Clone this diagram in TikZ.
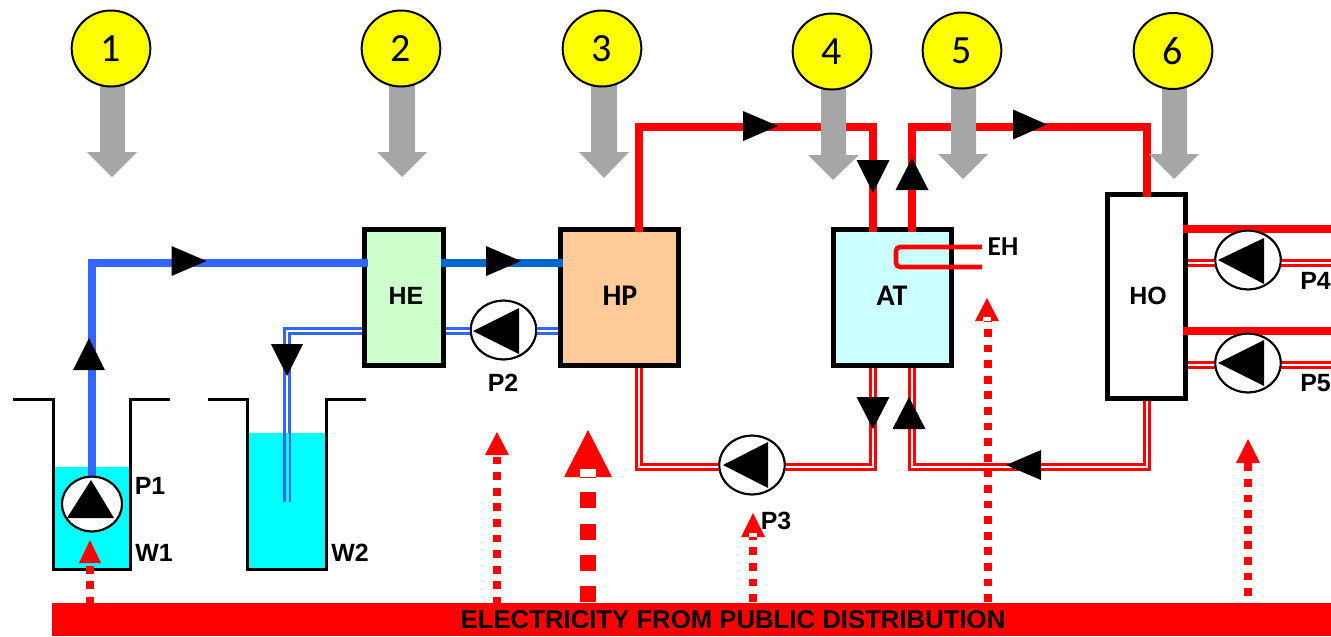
\documentclass[tikz,border=0pt]{standalone}
\usepackage{fontspec}
\usetikzlibrary{shapes.geometric}
\setmainfont{Liberation Sans}
\newfontfamily\carl{Carlito}
\definecolor{coldblue}{HTML}{3366FF}
\definecolor{midblue}{HTML}{0066CC}
\definecolor{hegreen}{HTML}{CCFFCC}
\definecolor{hporange}{HTML}{FFCC99}
\definecolor{atblue}{HTML}{CCFFFF}
\definecolor{water}{HTML}{00FFFF}
\definecolor{arrgray}{HTML}{A6A6A6}
\definecolor{numyellow}{HTML}{FFFF00}
\begin{document}
\begin{tikzpicture}[x=0.75pt,y=-0.75pt,
  lbl/.style={inner sep=0pt,font=\fontsize{18.7pt}{20pt}\selectfont\bfseries},
  lblc/.style={inner sep=0pt,font=\fontsize{22.5pt}{24pt}\carl\bfseries},
  num/.style={ellipse,draw=black,fill=numyellow,line width=1.5pt,minimum width=59pt,minimum height=57pt,inner sep=0pt,font=\fontsize{30pt}{32pt}\carl},
  boxn/.style={draw=black,line width=3.5pt,inner sep=0pt},
  pipe/.style={line width=6pt,line cap=butt,line join=miter},
  dblc/.style={draw=coldblue,line width=2.4pt,double=white,double distance=1.2pt,line join=miter},
  dblh/.style={draw=red,line width=2.1pt,double=white,double distance=1.8pt,line join=miter},
  pumpn/.style={ellipse,draw=black,fill=white,line width=1.5pt,inner sep=0pt,minimum width=49pt,minimum height=44pt},
  wall/.style={draw=black,line width=2.25pt,line join=miter},
  dots/.style={draw=red,line width=6pt,dash pattern=on 5.85pt off 5.85pt},
  graya/.style={fill=arrgray},
  tipb/.style={fill=black},
  tipr/.style={fill=red}]
\clip (0,0) rectangle (1331,636);
% water
\fill[water] (53,467) rectangle (130,569);
\fill[water] (247,433) rectangle (326,569);
% bar
\node[fill=red,inner sep=0pt,minimum width=959.25pt,minimum height=24.75pt,anchor=south west] (bar) at (52,636) {};
% boxes
\node[boxn,fill=hegreen,minimum width=59pt,minimum height=102pt] (he) at (404,297.5) {};
\node[boxn,fill=hporange,minimum width=88.5pt,minimum height=102pt] (hp) at (619.5,297.5) {};
\node[boxn,fill=atblue,minimum width=88.5pt,minimum height=102pt] (at) at (892.5,297.5) {};
\node[boxn,fill=white,minimum width=58.5pt,minimum height=153pt] (ho) at (1146.5,296.5) {};
% pumps
\node[pumpn,minimum width=45pt,minimum height=41pt] (p1) at (92,504) {};
\node[pumpn] (p2) at (503.5,330) {};
\node[pumpn] (p3) at (752,465) {};
\node[pumpn] (p4) at (1248,260) {};
\node[pumpn] (p5) at (1248,363) {};
% anchors on the boxes
\coordinate (heIn) at (368,263);
\coordinate (heOut) at (441,263);
\coordinate (hpIn) at (563,263);
\coordinate (heRetL) at (362,331);
\coordinate (heRetR) at (446,331);
\coordinate (hpRetL) at (558,331);
\coordinate (w2End) at (287,502);
\coordinate (hpTop) at (639,232);
\coordinate (atTopA) at (873,232);
\coordinate (atTopB) at (912,232);
\coordinate (hoTop) at (1147,197);
\coordinate (hpBot) at (639,368);
\coordinate (atBotA) at (873,368);
\coordinate (atBotB) at (912,368);
\coordinate (hoBot) at (1147,401);
\coordinate (hoA) at (1183,229);
\coordinate (hoB) at (1183,331);
\coordinate (hoC) at (1188,263);
\coordinate (hoD) at (1188,365);
\coordinate (outA) at (1331,229);
\coordinate (outB) at (1331,331);
\coordinate (outC) at (1331,263);
\coordinate (outD) at (1331,365);
% cold side
\draw[pipe,draw=coldblue] (p1.north) -- (92,263) -- (heIn);
\draw[pipe,draw=midblue] (heOut) -- (hpIn);
\draw[dblc] (heRetL) -- (287,331) -- (w2End);
\fill[water] (285.5,433) rectangle (288.5,502);
\draw[dblc] (heRetR) -- (p2.east |- heRetR);
\draw[dblc] (p2.west |- hpRetL) -- (hpRetL);
% hot side
\draw[pipe,draw=red] (hpTop) -- (639,127) -- (873,127) -- (atTopA);
\draw[pipe,draw=red] (atTopB) -- (912,127) -- (1147,127) -- (hoTop);
\draw[pipe,draw=red] (hoA) -- (outA);
\draw[pipe,draw=red] (hoB) -- (outB);
\draw[dblh] (hoC) -- (outC);
\draw[dblh] (hoD) -- (outD);
\draw[dblh] (hpBot) -- (639,467) -- (873,467) -- (atBotA);
\draw[dblh] (hoBot) -- (1147,467) -- (912,467) -- (atBotB);
% heater
\draw[red,line width=3.4pt,rounded corners=3pt] (982,247) -- (896,247) -- (896,267) -- (982,267);
% tanks
\draw[wall] (13,399) -- (53,399) -- (53,569) -- (130,569) -- (130,399) -- (170,399);
\draw[wall] (208,399) -- (247,399) -- (247,569) -- (326,569) -- (326,399) -- (366,399);
% pumps on top of the pipes
\node[pumpn,minimum width=45pt,minimum height=41pt] at (p1) {};
\node[pumpn] at (p2) {};
\node[pumpn] at (p3) {};
\node[pumpn] at (p4) {};
\node[pumpn] at (p5) {};
\fill[tipb] (91,480) -- (114,518) -- (67,518) -- cycle;
\fill[tipb] (473,331) -- (519,308) -- (519,354) -- cycle;
\fill[tipb] (723,465) -- (768,442) -- (768,488) -- cycle;
\fill[tipb] (1218,260) -- (1264,238) -- (1264,284) -- cycle;
\fill[tipb] (1218,363) -- (1264,340) -- (1264,386) -- cycle;
% grey arrows
\fill[graya] (100,85) -- (125,85) -- (125,152) -- (137,152) -- (112,177) -- (87,152) -- (100,152) -- cycle;
\fill[graya] (389,85) -- (415,85) -- (415,152) -- (427,152) -- (402,177) -- (377,152) -- (389,152) -- cycle;
\fill[graya] (591,85) -- (617,85) -- (617,152) -- (629,152) -- (604,178) -- (579,152) -- (591,152) -- cycle;
\fill[graya] (821,88) -- (846,88) -- (846,155) -- (859,155) -- (833,180) -- (808,155) -- (821,155) -- cycle;
\fill[graya] (951,87) -- (976,87) -- (976,154) -- (988,154) -- (963,179) -- (938,154) -- (951,154) -- cycle;
\fill[graya] (1162,87) -- (1187,87) -- (1187,154) -- (1199,154) -- (1174,179) -- (1149,154) -- (1162,154) -- cycle;
% numbered circles
\node[num] (n1) at (111,48.5) {1};
\node[num] (n2) at (401,48.5) {2};
\node[num] (n3) at (602,48.5) {3};
\node[num] (n4) at (832,51.5) {4};
\node[num] (n5) at (962,50.5) {5};
\node[num] (n6) at (1173,51) {6};
% black flow arrows
\fill[tipb] (89,338) -- (105,370) -- (73,370) -- cycle;
\fill[tipb] (206.5,261) -- (171.5,246) -- (171.5,276) -- cycle;
\fill[tipb] (521,261) -- (486,246) -- (486,276) -- cycle;
\fill[tipb] (287,376) -- (271,344) -- (303,344) -- cycle;
\fill[tipb] (778,126) -- (743,111) -- (743,141) -- cycle;
\fill[tipb] (873,193) -- (856.5,160) -- (889.5,160) -- cycle;
\fill[tipb] (912,158) -- (928.5,190) -- (895.5,190) -- cycle;
\fill[tipb] (1047,124.5) -- (1013,109.5) -- (1013,139.5) -- cycle;
\fill[tipb] (873,429) -- (856.5,397) -- (889.5,397) -- cycle;
\fill[tipb] (909,397) -- (925.5,429) -- (892.5,429) -- cycle;
\fill[tipb] (1006,465) -- (1041,450) -- (1041,480) -- cycle;
% electricity arrows
\coordinate (e1) at (90,603);
\coordinate (e2) at (497,603);
\coordinate (e3) at (588,602);
\coordinate (e4) at (753,602);
\coordinate (e5) at (988,602);
\coordinate (e6) at (1248,596);
\draw[dots,dash phase=1.35pt] (e1) -- (90,563);
\fill[tipr] (90,540) -- (101,563) -- (79,563) -- cycle;
\draw[dots,dash phase=1.35pt] (e2) -- (497,455);
\fill[tipr] (497,432) -- (509,455) -- (485,455) -- cycle;
\draw[draw=red,line width=12pt,dash pattern=on 12pt off 11.4pt] (e3) -- (588,477);
\fill[tipr] (588,430) -- (612,477) -- (564,477) -- cycle;
\fill[white] (580,469) rectangle (596,477);
\draw[dots] (e4) -- (753,537);
\fill[tipr] (753,513) -- (765,537) -- (741,537) -- cycle;
\fill[white] (749,533) rectangle (757,537);
\draw[dots] (e5) -- (988,321);
\fill[tipr] (987,298) -- (999,321) -- (975,321) -- cycle;
\fill[white] (983,317) rectangle (991,321);
\draw[dots] (e6) -- (1248,463);
\fill[tipr] (1248,439) -- (1260,463) -- (1236,463) -- cycle;
% labels
\node[lbl] (lhe) at (406,296) {HE};
\node[lblc] (lhp) at (620,296) {HP};
\node[lblc] (lat) at (892,296) {AT};
\node[lbl] (lho) at (1148,296) {HO};
\node[lblc,font=\fontsize{20.5pt}{22pt}\carl\bfseries] (leh) at (1003,246.5) {EH};
\node[lbl] (lp1) at (150,486) {P1};
\node[lbl] (lw1) at (154,553) {W1};
\node[lbl] (lw2) at (350,553) {W2};
\node[lbl] (lp2) at (503,383) {P2};
\node[lbl] (lp3) at (776,521) {P3};
\node[lbl,anchor=west] (lp4) at (1300,281) {P4};
\node[lbl,anchor=west] (lp5) at (1300,383) {P5};
\node[lbl,font=\fontsize{19.3pt}{20pt}\selectfont\bfseries] (lbar) at (733,620) {ELECTRICITY FROM PUBLIC DISTRIBUTION};
\end{tikzpicture}
\end{document}
